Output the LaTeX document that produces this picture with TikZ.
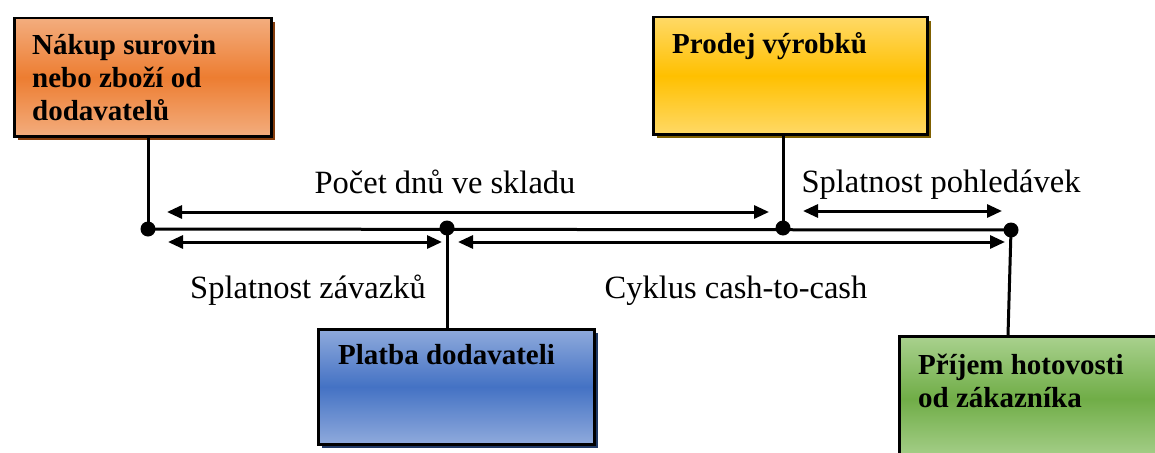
\documentclass[tikz,border=0pt]{standalone}
\usepackage{fontspec}
\setmainfont{Liberation Serif}
\usetikzlibrary{arrows.meta,shadows}

\definecolor{orLight}{HTML}{F3AD7E}
\definecolor{orMid}{HTML}{ED7D31}
\definecolor{orShadow}{HTML}{843C0C}
\definecolor{yeLight}{HTML}{FFD966}
\definecolor{yeMid}{HTML}{FFC000}
\definecolor{yeShadow}{HTML}{7F6000}
\definecolor{blLight}{HTML}{8FAADC}
\definecolor{blMid}{HTML}{4472C4}
\definecolor{blShadow}{HTML}{1F3864}
\definecolor{grLight}{HTML}{A9D18E}
\definecolor{grMid}{HTML}{70AD47}
\definecolor{grShadow}{HTML}{385723}

\tikzset{
  box/.style={rectangle, draw=black, line width=2.5pt, inner sep=0pt, anchor=north west},
  boxshade/.style n args={3}{top color=#1, bottom color=#1, middle color=#2,
    drop shadow={shadow xshift=4pt, shadow yshift=-4pt, fill=#3, opacity=1}},
  boxtext/.style={anchor=base west, inner sep=0pt, align=left,
    font=\fontsize{29}{33}\selectfont\bfseries},
  lbl/.style={anchor=base, inner sep=0pt, font=\fontsize{32.5}{36}\selectfont},
  dot/.style={circle, fill=black, inner sep=0pt, minimum size=15pt},
  link/.style={line width=3pt},
  span/.style={line width=3pt,
    {Triangle[length=15pt,width=13pt]}-{Triangle[length=15pt,width=13pt]}},
}

\begin{document}
\begin{tikzpicture}[x=1pt,y=-1pt]
  \path[use as bounding box, clip] (0,0) rectangle (1155,452);

  % event boxes
  \node[box, boxshade={orLight}{orMid}{orShadow}, minimum width=257pt, minimum height=118pt]
    (buy) at (13,17) {};
  \node[box, boxshade={yeLight}{yeMid}{yeShadow}, minimum width=274pt, minimum height=117pt]
    (sell) at (652,16) {};
  \node[box, boxshade={blLight}{blMid}{blShadow}, minimum width=276pt, minimum height=115pt]
    (pay) at (317,328) {};
  \node[box, boxshade={grLight}{grMid}{grShadow}, minimum width=280pt, minimum height=125pt]
    (cash) at (898,335) {};

  % multi-line texts are anchored on the baseline of their last line
  \node[boxtext] (buyT) at (32,120) {Nákup surovin\\nebo zboží od\\dodavatelů};
  \node[boxtext] (sellT) at (672,54) {Prodej výrobků};
  \node[boxtext] (payT) at (338,364) {Platba dodavateli};
  \node[boxtext] (cashT) at (918,407) {Příjem hotovosti\\od zákazníka};

  % time line points
  \coordinate (p1) at (148,229);
  \coordinate (p2) at (447,228);
  \coordinate (p3) at (783,228);
  \coordinate (p4) at (1011,230);
  \coordinate (c4) at (1008,335);

  \draw[link] (p1) -- (p4);
  \draw[link] (p1 |- buy.south) -- (p1);
  \draw[link] (p3 |- sell.south) -- (p3);
  \draw[link] (p2) -- (p2 |- pay.north);
  \draw[link] (p4) -- (c4);

  \node[dot] (d1) at (p1) {};
  \node[dot] (d2) at (p2) {};
  \node[dot] (d3) at (p3) {};
  \node[dot] (d4) at (p4) {};

  % duration spans
  \coordinate (s1a) at (167,212);  \coordinate (s1b) at (769,212);
  \coordinate (s2a) at (803,211);  \coordinate (s2b) at (1002,211);
  \coordinate (s3a) at (168,242);  \coordinate (s3b) at (442,242);
  \coordinate (s4a) at (458,242);  \coordinate (s4b) at (1005,242);

  \draw[span] (s1a) -- (s1b);
  \draw[span] (s2a) -- (s2b);
  \draw[span] (s3a) -- (s3b);
  \draw[span] (s4a) -- (s4b);

  \node[lbl] (l1) at (445,193) {Počet dnů ve skladu};
  \node[lbl] (l2) at (941,192) {Splatnost pohledávek};
  \node[lbl] (l3) at (308,298) {Splatnost závazků};
  \node[lbl] (l4) at (736,298) {Cyklus cash-to-cash};
\end{tikzpicture}
\end{document}
